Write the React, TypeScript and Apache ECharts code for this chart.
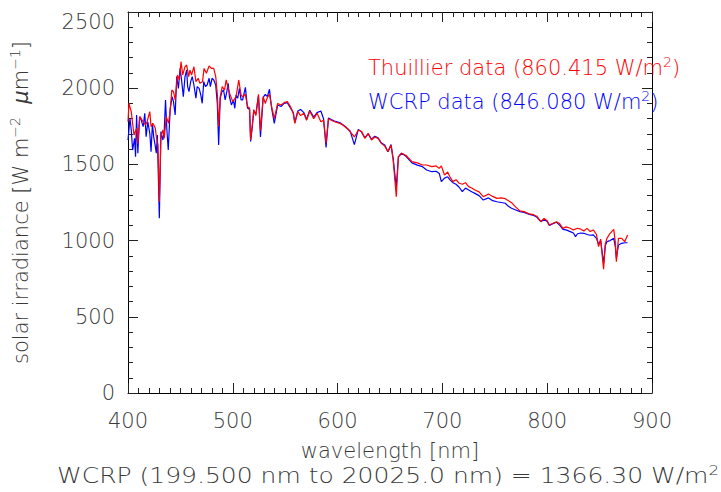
import React, { useEffect, useRef } from "react";
import * as echarts from "echarts";

// Thuillier spectrum (red)
const thuillierWavelength = [
  400.0, 400.9, 403.1, 405.7, 408.2, 409.4, 411.3, 414.5, 416.7, 418.2,
  420.8, 422.0, 423.9, 426.1, 427.0, 428.6, 429.9, 431.4, 433.3, 434.6,
  436.5, 438.7, 440.3, 441.8, 443.4, 445.0, 447.2, 449.1, 450.6, 452.2,
  454.4, 456.0, 457.9, 459.1, 460.7, 462.9, 464.8, 467.0, 468.6, 471.1,
  472.6, 474.8, 477.4, 479.6, 481.8, 483.7, 485.2, 486.5, 488.0, 489.9,
  492.1, 493.7, 495.6, 497.5, 500.0, 503.1, 505.7, 507.9, 509.4,
  512, 514, 516, 517, 518.5, 520, 522, 524.5, 526.4, 529,
  531, 533, 535, 537, 539.6, 542.8, 546, 549, 552, 555,
  557.7, 559.2, 562, 564.7, 567.8, 570.4, 573.4, 577.2, 580.4, 584,
  586.6, 589, 591.3, 594, 597, 602, 605, 608.8, 611.9, 616,
  619.8, 622.9, 626, 629.2, 632.3, 635.5, 638.6, 641.8, 645, 648,
  651, 653, 656, 658, 661, 665, 671, 676, 681, 685,
  690, 694, 697, 699, 702, 705, 707, 710, 713, 716,
  719, 722, 725, 728, 731, 735, 739, 744, 748, 752,
  756, 760, 763, 766, 770, 774, 778, 783, 787, 790,
  794, 797, 800, 802, 806, 809, 812, 815, 818, 822,
  825, 829, 832, 835, 838, 841, 844, 847, 849, 851,
  853.8, 855.5, 857, 860, 863.5, 865, 866, 868, 871, 874,
  876.7,
];
const thuillierIrradiance = [
  1780, 1901, 1846, 1693, 1737, 1638, 1813, 1780, 1759, 1780,
  1846, 1748, 1769, 1737, 1682, 1627, 1255, 1682, 1726, 1671,
  1813, 1769, 1857, 1988, 1977, 1923, 2087, 2054, 2174, 2087,
  2141, 2152, 2076, 2119, 2087, 2141, 2043, 2065, 2032, 2043,
  2130, 2098, 2146, 2130, 2130, 2076, 1966, 1748, 1944, 2010,
  1988, 2054, 1999, 1955, 1912, 1944, 2054, 1955, 1944,
  1960, 1880, 1870, 1660, 1750, 1860, 1820, 1960, 1720, 1945,
  1900, 1940, 1960, 1880, 1800, 1900, 1890, 1905, 1912, 1880,
  1835, 1769, 1846, 1820, 1835, 1790, 1850, 1800, 1835, 1780,
  1790, 1640, 1800, 1790, 1780, 1769, 1759, 1737, 1715, 1680,
  1726, 1715, 1671, 1704, 1660, 1680, 1671, 1638, 1620, 1583,
  1627, 1530, 1288, 1550, 1573, 1560, 1518, 1510, 1496, 1496,
  1485, 1490, 1474, 1490, 1430, 1450, 1420, 1387, 1400, 1376,
  1370, 1380, 1354, 1345, 1332, 1320, 1288, 1306, 1290, 1277,
  1280, 1275, 1262, 1249, 1220, 1195, 1190, 1175, 1170, 1160,
  1124, 1146, 1130, 1102, 1115, 1124, 1110, 1080, 1090, 1081,
  1070, 1081, 1075, 1063, 1080, 1060, 1070, 1040, 960, 1010,
  812, 980, 1015, 1048, 1074, 990, 862, 1015, 1015, 993,
  1037,
];

// WCRP spectrum (blue)
const wcrpWavelength = [
  400.0, 401.9, 403.1, 404.4, 406.3, 407.2, 408.2, 409.4, 411.0, 412.6,
  414.5, 416.0, 417.3, 418.9, 420.8, 422.0, 423.3, 424.5, 426.1, 427.0,
  428.0, 429.9, 431.4, 433.3, 434.6, 435.8, 437.1, 438.4, 440.3, 442.1,
  443.4, 445.0, 446.5, 448.1, 449.7, 451.3, 452.8, 454.4, 456.0, 456.9,
  458.2, 459.8, 461.3, 462.9, 464.8, 466.0, 467.9, 469.5, 470.8, 472.3,
  473.9, 475.5, 477.4, 478.6, 480.2, 481.8, 483.7, 485.2, 486.5, 488.0,
  489.6, 491.2, 492.7, 494.3, 495.6, 496.8, 498.7, 500.6, 501.9, 503.1,
  504.7, 506.3, 507.9, 509.4,
  512, 514, 516, 517, 518.5, 520, 522, 524.5, 526.4, 529,
  531, 533, 535, 537, 539.6, 542.8, 546, 549, 552, 555,
  557.7, 559.2, 562, 564.7, 567.8, 570.4, 573.4, 577.2, 580.4, 584,
  586.6, 589, 591.3, 594, 597, 602, 605, 608.8, 611.9, 616,
  619.8, 622.9, 626, 629.2, 632.3, 635.5, 638.6, 641.8, 645, 648,
  651, 653, 656, 658, 661, 665, 671, 676, 681, 685,
  690, 694, 697, 699, 702, 705, 707, 710, 713, 716,
  719, 722, 725, 728, 731, 735, 739, 744, 748, 752,
  756, 760, 763, 766, 770, 774, 778, 783, 787, 790,
  794, 797, 800, 802, 806, 809, 812, 815, 818, 822,
  825, 827, 829, 832, 835, 838, 841, 844, 847, 849,
  851, 853.8, 855.5, 857, 860, 863.5, 865, 866, 868, 871,
  874, 876.7,
];
const wcrpIrradiance = [
  1660, 1802, 1726, 1594, 1671, 1551, 1824, 1573, 1813, 1791,
  1748, 1835, 1682, 1780, 1704, 1584, 1769, 1682, 1616, 1573,
  1693, 1146, 1715, 1660, 1726, 1923, 1726, 1594, 1868, 1944,
  1912, 1824, 2076, 1999, 2130, 2043, 1944, 2076, 2119, 2010,
  1977, 2043, 2076, 2021, 1934, 2010, 1999, 1955, 1901, 2043,
  2010, 2021, 2065, 2010, 2065, 2054, 2021, 1901, 1627, 1934,
  1977, 1988, 1923, 1977, 2032, 1944, 1890, 1923, 1868, 1955,
  1934, 1999, 1923, 1923,
  2006, 1870, 1860, 1650, 1740, 1850, 1830, 1950, 1680, 1940,
  1960, 1945, 1993, 1870, 1769, 1890, 1880, 1900, 1905, 1870,
  1840, 1775, 1850, 1860, 1840, 1795, 1855, 1810, 1840, 1850,
  1800, 1612, 1805, 1795, 1785, 1775, 1760, 1740, 1720, 1630,
  1730, 1712, 1675, 1700, 1665, 1685, 1675, 1640, 1627, 1583,
  1630, 1540, 1350, 1550, 1573, 1555, 1510, 1495, 1485, 1463,
  1452, 1455, 1441, 1387, 1410, 1419, 1400, 1380, 1370, 1350,
  1321, 1345, 1332, 1320, 1310, 1295, 1266, 1280, 1262, 1255,
  1250, 1245, 1225, 1212, 1201, 1190, 1185, 1172, 1165, 1155,
  1124, 1140, 1125, 1100, 1112, 1120, 1100, 1074, 1070, 1059,
  1050, 1026, 1045, 1050, 1048, 1040, 1035, 1037, 1015, 975,
  1000, 851, 970, 993, 1000, 1015, 960, 884, 971, 982,
  986, 986,
];

const seriesNames = ["WCRP data", "Thuillier data"];
const seriesTotals = ["846.080", "860.415"];
const seriesColors = ["#0000ff", "#ff0000"];
const legendOrder = ["Thuillier data", "WCRP data"];

const xRange = { min: 400, max: 900, interval: 100 };
const yRange = { min: 0, max: 2500, interval: 500 };
const xTitle = "wavelength [nm]";
const footnote = "WCRP (199.500 nm to 20025.0 nm) = 1366.30 W/m{sup|2}";

const FONT = "DejaVu Sans";
const WEIGHT = 200;
const INK = "#3a3a3a";

function zip(xs: number[], ys: number[]) {
  const n = Math.min(xs.length, ys.length);
  const out: number[][] = [];
  for (let i = 0; i < n; i++) out.push([xs[i], ys[i]]);
  return out;
}

export default function App() {
  const ref = useRef<HTMLDivElement>(null);
  useEffect(() => {
    if (!ref.current) return;
    const chart = echarts.init(ref.current, null, { renderer: "svg" });
    const font = { fontFamily: FONT, fontWeight: WEIGHT };
    const supStyle = { fontSize: 14, ...font, verticalAlign: "top", lineHeight: 12 };
    const axisCommon = {
      type: "value",
      axisLine: { show: true, onZero: false, lineStyle: { color: "#000", width: 1 } },
      axisTick: { show: true, inside: true, length: 10, lineStyle: { color: "#222" } },
      splitLine: { show: false },
    };
    const dataSets = [zip(wcrpWavelength, wcrpIrradiance), zip(thuillierWavelength, thuillierIrradiance)];
    const option: any = {
      animation: false,
      backgroundColor: "#fff",
      grid: { left: 122, right: 69, top: 12, bottom: 99, containLabel: false },
      legend: {
        orient: "vertical",
        left: 358,
        top: 50,
        itemGap: 8,
        itemWidth: 0,
        itemHeight: 0,
        icon: "rect",
        selectedMode: false,
        data: legendOrder.map((n) => ({
          name: n,
          textStyle: { color: seriesColors[seriesNames.indexOf(n)] },
        })),
        formatter: (name: string) =>
          `${name} (${seriesTotals[seriesNames.indexOf(name)]} W/m{sup|2})`,
        textStyle: {
          fontSize: 21,
          lineHeight: 26,
          ...font,
          rich: { sup: { ...supStyle } },
        },
      },
      xAxis: [
        {
          ...axisCommon,
          position: "bottom",
          min: xRange.min,
          max: xRange.max,
          interval: xRange.interval,
          minorTick: { show: true, splitNumber: 10, length: 5, lineStyle: { color: "#222" } },
          axisLabel: { fontSize: 21, ...font, color: INK, margin: 17 },
          name: xTitle,
          nameLocation: "middle",
          nameGap: 47,
          nameTextStyle: { fontSize: 21, ...font, color: INK },
        },
        {
          ...axisCommon,
          position: "top",
          min: xRange.min,
          max: xRange.max,
          interval: xRange.interval,
          minorTick: { show: true, splitNumber: 10, length: 5, lineStyle: { color: "#222" } },
          axisLabel: { show: false },
        },
      ],
      yAxis: [
        {
          ...axisCommon,
          position: "left",
          min: yRange.min,
          max: yRange.max,
          interval: yRange.interval,
          minorTick: { show: true, splitNumber: 5, length: 5, lineStyle: { color: "#222" } },
          axisLabel: {
            fontSize: 21,
            ...font,
            color: INK,
            margin: 13,
            formatter: (v: number) => (v === yRange.max ? `{top|${v}}` : `${v}`),
            rich: { top: { fontSize: 21, ...font, color: INK, padding: [19, 0, 0, 0] } },
          },
          name: "{t|solar irradiance [W m}{sup|−2}{t|  }{i|μ}{t|m}{sup|−1}{t|]}",
          nameLocation: "middle",
          nameGap: 94,
          nameTextStyle: {
            fontSize: 21,
            ...font,
            color: INK,
            rich: {
              t: { fontSize: 21, ...font, color: INK, lineHeight: 26 },
              i: { fontSize: 21, ...font, color: INK, fontStyle: "italic", lineHeight: 26 },
              sup: { ...supStyle, color: INK },
            },
          },
        },
        {
          ...axisCommon,
          position: "right",
          min: yRange.min,
          max: yRange.max,
          interval: yRange.interval,
          minorTick: { show: true, splitNumber: 5, length: 5, lineStyle: { color: "#222" } },
          axisLabel: { show: false },
        },
      ],
      series: seriesNames.map((n, i) => ({
        name: n,
        type: "line",
        xAxisIndex: 0,
        yAxisIndex: 0,
        data: dataSets[i],
        showSymbol: false,
        symbol: "none",
        color: seriesColors[i],
        lineStyle: { color: seriesColors[i], width: 1.2 },
        z: 2 + i,
      })),
      graphic: [
        {
          type: "text",
          x: 57,
          y: 463,
          scaleX: 1.19,
          style: {
            text: footnote,
            fontSize: 21,
            lineHeight: 26,
            ...font,
            fill: INK,
            verticalAlign: "top",
            rich: { sup: { ...supStyle, fill: INK } },
          },
        },
      ],
    };
    chart.setOption(option);
    return () => chart.dispose();
  }, []);
  return <div ref={ref} style={{ width: 721, height: 492, position: "absolute", left: 0, top: 0, background: "#fff" }} />;
}
